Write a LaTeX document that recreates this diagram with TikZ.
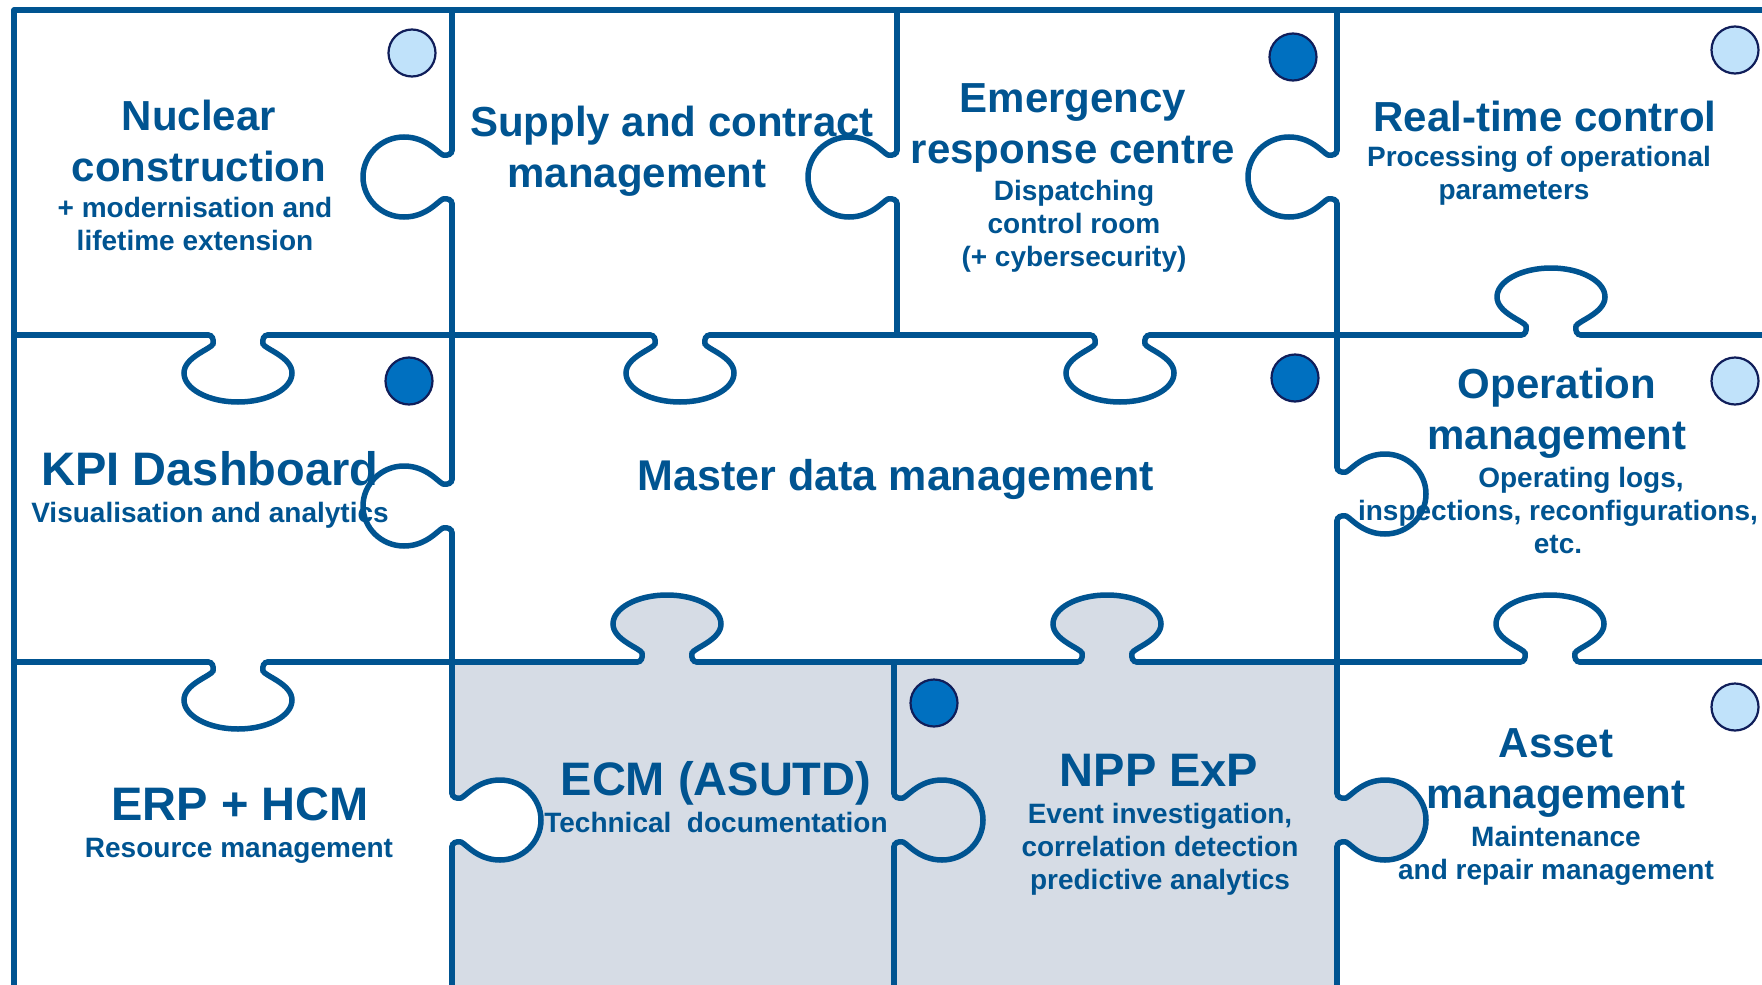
\documentclass[tikz,border=0pt]{standalone}
\usepackage{fontspec}
\setmainfont{Liberation Sans}

\definecolor{puzzleblue}{RGB}{0,84,145}
\definecolor{pieceshade}{RGB}{214,220,229}
\definecolor{dotpale}{RGB}{192,226,250}
\definecolor{dotdark}{RGB}{0,112,192}
\definecolor{dotrim}{RGB}{16,30,90}

\newcommand{\headfont}{\fontsize{42}{50.5}\selectfont\bfseries}
\newcommand{\bigheadfont}{\fontsize{47}{56}\selectfont\bfseries}
\newcommand{\subfont}{\fontsize{28}{33}\selectfont\bfseries}

% one puzzle tab: neck #1, bulb half width #2, bulb centre #3, bulb radius #4
\newcommand{\tabprofile}[4]{({-#1-5},0) .. controls ({-#1-1},0) and ({-#1+1},4) .. ({-#1},9)
  .. controls ({-#1-2},14) and ({-#2},{#3-0.55*#4}) .. ({-#2},#3)
  .. controls ({-#2},{#3+0.55*#4}) and ({-0.55*#2},{#3+#4}) .. (0,{#3+#4})
  .. controls ({0.55*#2},{#3+#4}) and (#2,{#3+0.55*#4}) .. (#2,#3)
  .. controls (#2,{#3-0.55*#4}) and ({#1+2},14) .. (#1,9)
  .. controls ({#1-1},4) and ({#1+1},0) .. ({#1+5},0)}

\tikzset{
  seam/.style={draw=puzzleblue,line width=5.5pt,line cap=round},
  tab/.pic={\path[pic actions] \tabprofile{25}{54}{38}{29};},
  tabarea/.pic={\path[pic actions] \tabprofile{25}{54}{38}{29} -- cycle;},
  sidetab/.pic={\path[pic actions] \tabprofile{22}{40}{48}{41};},
  sidetabarea/.pic={\path[pic actions] \tabprofile{22}{40}{48}{41} -- cycle;},
  lamp/.style={circle,draw=dotrim,line width=2.2pt,minimum size=47pt,inner sep=0pt},
  headline/.style={text=puzzleblue,font=\headfont,align=center,inner sep=0pt,anchor=base},
  bighead/.style={headline,font=\bigheadfont},
  subline/.style={text=puzzleblue,font=\subfont,align=center,inner sep=0pt,anchor=base},
}

\begin{document}
\begin{tikzpicture}[x=1pt,y=-1pt]
  \useasboundingbox (0,0) rectangle (1762,985);
  \clip (0,0) rectangle (1762,985);
  \fill[white] (0,0) rectangle (1762,985);

  % shaded pieces
  \fill[pieceshade] (452,662) rectangle (1337,985);
  \foreach \x in {667,1107} \pic[fill=pieceshade,rotate=180] at (\x,662) {tabarea};
  \pic[fill=pieceshade,rotate=90] at (1337,820) {sidetabarea};
  \pic[fill=white,rotate=90] at (452,820) {sidetabarea};

  % outer border
  \draw[seam] (14,10) -- (1762,10) (14,10) -- (14,985);

  % horizontal seams
  \foreach \a/\b in {14/208,268/650,710/1090,1150/1521,1581/1762}
    \draw[seam] (\a,335) -- (\b,335);
  \foreach \a/\b in {14/208,268/637,697/1077,1137/1520,1580/1762}
    \draw[seam] (\a,662) -- (\b,662);
  \foreach \x in {238,680,1120} \pic[seam] at (\x,335) {tab};
  \pic[seam,rotate=180] at (1551,335) {tab};
  \pic[seam] at (238,662) {tab};
  \foreach \x in {667,1107,1550} \pic[seam,rotate=180] at (\x,662) {tab};

  % vertical seams
  \foreach \a/\b in {10/150,204/479,533/793,847/985}
    \draw[seam] (452,\a) -- (452,\b);
  \draw[seam] (897,10) -- (897,150) (897,204) -- (897,335);
  \draw[seam] (894,662) -- (894,793) (894,847) -- (894,985);
  \foreach \a/\b in {10/150,204/467,521/793,847/985}
    \draw[seam] (1337,\a) -- (1337,\b);
  \foreach \x in {452,897,1337} \pic[seam,rotate=-90] at (\x,177) {sidetab};
  \pic[seam,rotate=-90] at (452,506) {sidetab};
  \pic[seam,rotate=90] at (1337,494) {sidetab};
  \foreach \x in {452,894,1337} \pic[seam,rotate=90] at (\x,820) {sidetab};

  % status dots
  \node[lamp,fill=dotpale] (nucdot) at (412,53) {};
  \node[lamp,fill=dotdark] (ercdot) at (1293,57) {};
  \node[lamp,fill=dotpale] (rtcdot) at (1735,50) {};
  \node[lamp,fill=dotdark] (kpidot) at (409,381) {};
  \node[lamp,fill=dotdark] (mdmdot) at (1295,378) {};
  \node[lamp,fill=dotpale] (opmdot) at (1735,381) {};
  \node[lamp,fill=dotdark] (nppdot) at (934,703) {};
  \node[lamp,fill=dotpale] (assetdot) at (1735,707) {};

  % piece labels (anchored at the baseline of their last line)
  \node[headline] (nuc) at (199,181) {Nuclear\\construction};
  \node[subline] (nucsub) at (195,250) {+ modernisation and\\lifetime extension};
  \node[headline] (supply) at (672,187) {Supply and contract\\management\hspace*{70pt}};
  \node[headline] (erc) at (1073,163) {Emergency\\response centre};
  \node[subline] (ercsub) at (1074,266) {Dispatching\\control room\\(+ cybersecurity)};
  \node[headline] (rtc) at (1545,131) {Real-time control};
  \node[subline] (rtcsub) at (1539,199) {Processing of operational\\parameters\hspace*{50pt}};
  \node[bighead] (kpi) at (210,485) {KPI Dashboard};
  \node[subline] (kpisub) at (210,522) {Visualisation and analytics};
  \node[headline,font=\fontsize{43}{50}\selectfont\bfseries] (mdm) at (896,490) {Master data management};
  \node[headline] (opm) at (1557,449) {Operation\\management};
  \node[subline] (opmsub) at (1558,553) {\hspace*{46pt}Operating logs,\\inspections, reconfigurations,\\etc.};
  \node[bighead] (erp) at (240,820) {ERP + HCM};
  \node[subline] (erpsub) at (239,857) {Resource management};
  \node[bighead] (ecm) at (716,795) {ECM (ASUTD)};
  \node[subline] (ecmsub) at (716,832) {Technical\ \ documentation};
  \node[bighead] (npp) at (1159,786) {NPP ExP};
  \node[subline] (nppsub) at (1160,889) {Event investigation,\\correlation detection\\predictive analytics};
  \node[headline] (asset) at (1556,808) {Asset\\management};
  \node[subline] (assetsub) at (1556,879) {Maintenance\\and repair management};
\end{tikzpicture}
\end{document}
